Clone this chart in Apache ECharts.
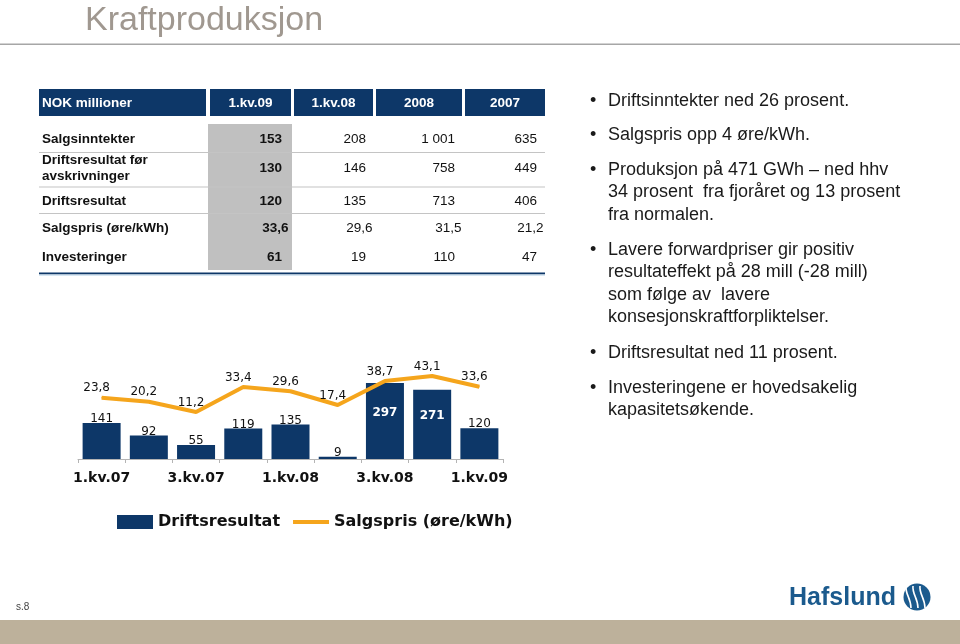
<!DOCTYPE html>
<html>
<head>
<meta charset="utf-8">
<script src="https://cdn.jsdelivr.net/npm/echarts@6/dist/echarts.min.js"></script>
<style>
html,body{margin:0;padding:0;background:#fff;}
#chart{width:960px;height:644px;}
</style>
</head>
<body>
<div id="chart"></div>
<script>
// ---- Data ----
const categories = ['1.kv.07','2.kv.07','3.kv.07','4.kv.07','1.kv.08','2.kv.08','3.kv.08','4.kv.08','1.kv.09'];
const driftsresultat = [141, 92, 55, 119, 135, 9, 297, 271, 120];
const salgspris = [23.8, 20.2, 11.2, 33.4, 29.6, 17.4, 38.7, 43.1, 33.6];

const tableTitle = 'NOK millioner';
const tableColumns = ['1.kv.09', '1.kv.08', '2008', '2007'];
const tableRows = ['Salgsinntekter', 'Driftsresultat før\navskrivninger', 'Driftsresultat', 'Salgspris (øre/kWh)', 'Investeringer'];
const col_1kv09 = ['153', '130', '120', '33,6', '61'];
const col_1kv08 = ['208', '146', '135', '29,6', '19'];
const col_2008 = ['1 001', '758', '713', '31,5', '110'];
const col_2007 = ['635', '449', '406', '21,2', '47'];

const bullets = [
  'Driftsinntekter ned 26 prosent.',
  'Salgspris opp 4 øre/kWh.',
  'Produksjon på 471 GWh – ned hhv\n34 prosent  fra fjoråret og 13 prosent\nfra normalen.',
  'Lavere forwardpriser gir positiv\nresultateffekt på 28 mill (-28 mill)\nsom følge av  lavere\nkonsesjonskraftforpliktelser.',
  'Driftsresultat ned 11 prosent.',
  'Investeringene er hovedsakelig\nkapasitetsøkende.'
];

// ---- Layout / styles ----
const NAVY = '#0d3768';
const ORANGE = '#f5a51c';
const fmt = v => v.toFixed(1).replace('.', ',');

const graphic = [];
// Title
graphic.push({type:'text', style:{text:'Kraftproduksjon', x:85, y:21, font:'34px "Liberation Sans", Arial, sans-serif', fill:'#a09890', textVerticalAlign:'middle'}});
graphic.push({type:'rect', shape:{x:0, y:43.5, width:960, height:1.5}, style:{fill:'#a6a6a6'}});

// Table
const colRects = [[39,206],[210,291],[294,373],[376,462],[465,545]];
colRects.forEach(r => graphic.push({type:'rect', shape:{x:r[0], y:89, width:r[1]-r[0], height:27}, style:{fill:NAVY}}));
const TFB = 'bold 13.5px "Liberation Sans", Arial, sans-serif';
const TF = '13.5px "Liberation Sans", Arial, sans-serif';
graphic.push({type:'text', style:{text:tableTitle, x:42, y:103, font:TFB, fill:'#fff', textVerticalAlign:'middle'}});
tableColumns.forEach((c,i) => {
  const r = colRects[i+1];
  graphic.push({type:'text', style:{text:c, x:(r[0]+r[1])/2, y:103, font:TFB, fill:'#fff', textAlign:'center', textVerticalAlign:'middle'}});
});
graphic.push({type:'rect', shape:{x:208, y:124, width:84, height:146}, style:{fill:'#c0c0c0'}});
[152, 186.5, 213].forEach(y => graphic.push({type:'rect', shape:{x:39, y:y, width:506, height:1}, style:{fill:'#c4c4c4'}}));
graphic.push({type:'rect', shape:{x:39, y:272.5, width:506, height:2}, style:{fill:NAVY}});
graphic.push({type:'rect', shape:{x:39, y:274.5, width:506, height:1.5}, style:{fill:'#d6e6f2'}});

const rowY = [139, 168.5, 201, 228, 257];
tableRows.forEach((t,i) => {
  graphic.push({type:'text', style:{text:t, x:42, y:rowY[i], font:TFB, fill:'#111', textVerticalAlign:'middle', lineHeight:15.5}});
});
const colsVals = [col_1kv09, col_1kv08, col_2008, col_2007];
const rightEdges = [282, 366, 455, 537];
colsVals.forEach((col, ci) => {
  col.forEach((v, ri) => {
    const shift = v.indexOf(',') >= 0 ? 6.5 : 0;
    graphic.push({type:'text', style:{text:v, x:rightEdges[ci]+shift, y:rowY[ri], font: ci===0 ? TFB : TF, fill:'#111', textAlign:'right', textVerticalAlign:'middle'}});
  });
});

// Bullets
const bulletY = [101, 135, 170, 250, 353, 388];
const BF = '18px "Liberation Sans", Arial, sans-serif';
bullets.forEach((b,i) => {
  graphic.push({type:'text', style:{text:'•', x:590, y:bulletY[i], font:BF, fill:'#1a1a1a', textVerticalAlign:'middle'}});
  graphic.push({type:'text', style:{text:b, x:608, y:bulletY[i]-11.2, font:BF, fill:'#1a1a1a', textVerticalAlign:'top', lineHeight:22.4}});
});

// Footer
graphic.push({type:'rect', shape:{x:0, y:620, width:960, height:24}, style:{fill:'#bdb19b'}});
graphic.push({type:'text', style:{text:'s.8', x:16, y:607, font:'10px "Liberation Sans", Arial, sans-serif', fill:'#444', textVerticalAlign:'middle'}});
graphic.push({type:'text', style:{text:'Hafslund', x:789, y:598, font:'bold 25px "Liberation Sans", Arial, sans-serif', fill:'#1b5a8d', textVerticalAlign:'middle'}});
graphic.push({type:'circle', shape:{cx:917, cy:597, r:13.5}, style:{fill:'#1b5a8d'}});
[[-7,0],[0,0],[7,0]].forEach((o,k) => {
  graphic.push({type:'bezierCurve', shape:{x1:910+o[0]+3, y1:586, cpx1:904+o[0]+8, cpy1:594, cpx2:918+o[0], cpy2:598, x2:912+o[0]+6, y2:608}, style:{stroke:'#fff', lineWidth:1.6, fill:null}});
});

const option = {
  backgroundColor: '#ffffff',
  animation: false,
  graphic: graphic,
  legend: {
    left: 117, top: 514, padding: 0,
    itemWidth: 36, itemHeight: 14, itemGap: 13,
    selectedMode: false,
    textStyle: {fontFamily:'"DejaVu Sans", Verdana, sans-serif', fontWeight:'bold', fontSize:16, color:'#111'},
    data: [
      {name:'Driftsresultat', icon:'rect'},
      {name:'Salgspris (øre/kWh)', icon:'path://M0,0 L36,0 L36,4 L0,4 Z'}
    ]
  },
  grid: {left:78, right:457, top:340, bottom:185},
  xAxis: {
    type:'category', data: categories, boundaryGap:true,
    axisLine: {lineStyle:{color:'#b4b4b4', width:1}},
    axisTick: {show:true, interval:0, length:4, lineStyle:{color:'#b4b4b4'}},
    axisLabel: {interval:1, margin:12, fontFamily:'"DejaVu Sans", Verdana, sans-serif', fontWeight:'bold', fontSize:14, color:'#111'}
  },
  yAxis: [
    {type:'value', min:0, max:465, show:false, splitLine:{show:false}},
    {type:'value', min:-30.5, max:75, show:false, splitLine:{show:false}}
  ],
  series: [
    {
      name:'Driftsresultat', type:'bar', yAxisIndex:0, barWidth:38,
      itemStyle:{color:NAVY},
      label:{show:true, position:'top', distance:1, offset:[0,3], fontFamily:'"DejaVu Sans", Verdana, sans-serif', fontSize:12, color:'#111'},
      data: driftsresultat.map(v => v > 250 ? {value:v, label:{position:'inside', offset:[0,-8], color:'#fff', fontWeight:'bold', fontSize:12}} : v)
    },
    {
      name:'Salgspris (øre/kWh)', type:'line', yAxisIndex:1,
      symbol:'circle', symbolSize:1, showSymbol:true,
      lineStyle:{color:ORANGE, width:4}, itemStyle:{color:ORANGE},
      label:{show:true, position:'top', distance:3, offset:[-5,0], fontFamily:'"DejaVu Sans", Verdana, sans-serif', fontSize:12, color:'#111', formatter: p => fmt(p.value)},
      data: salgspris, z:3
    }
  ]
};
const chart = echarts.init(document.getElementById('chart'));
chart.setOption(option);
</script>
</body>
</html>
